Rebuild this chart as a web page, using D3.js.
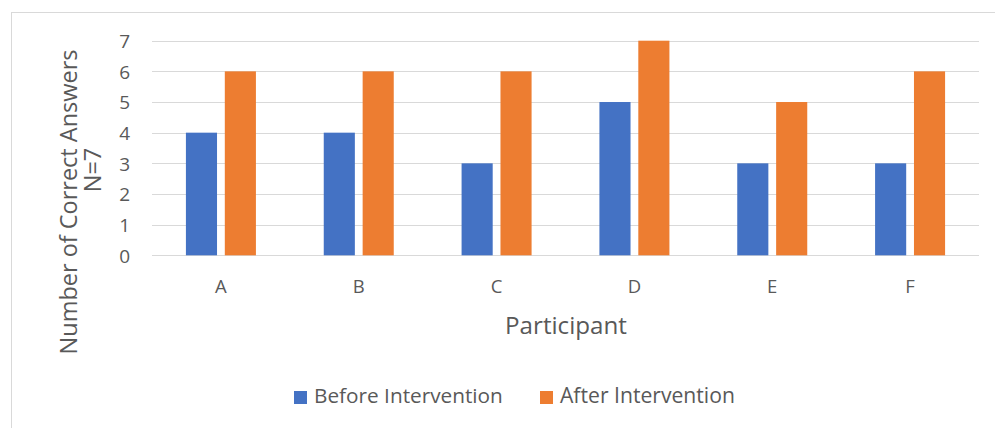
<!DOCTYPE html>
<html><head><meta charset="utf-8">
<script src="https://cdn.jsdelivr.net/npm/d3@7"></script>
<style>body{margin:0;background:#fff}svg{display:block}text{font-family:"Open Sans",sans-serif;fill:#595959}</style>
</head><body>
<svg id="c" width="995" height="428"></svg>
<script>
const categories = ["A","B","C","D","E","F"];
const seriesNames = ["Before Intervention","After Intervention"];
const before = [4,4,3,5,3,3];
const after = [6,6,6,7,5,6];
const yTicks = [0,1,2,3,4,5,6,7];
const colors = ["#4472C4","#ED7D31"];

const svg = d3.select("#c");
svg.append("rect").attr("x",11.5).attr("y",12.5).attr("width",1100).attr("height",600)
  .attr("fill","#fff").attr("stroke","#d9d9d9").attr("stroke-width",1);

const x = d3.scaleBand().domain(categories).range([152,979]).padding(0);
const y = d3.scaleLinear().domain([0,7]).range([255.3,40.7]);
const xs = d3.scaleBand().domain(seriesNames).range([-35,35]).paddingInner(0.2).paddingOuter(0);

// gridlines
svg.append("g").selectAll("line").data(yTicks).join("line")
  .attr("x1",152).attr("x2",979)
  .attr("y1",d=>Math.round(y(d))+0.5).attr("y2",d=>Math.round(y(d))+0.5)
  .attr("stroke","#d9d9d9").attr("stroke-width",1.2);

// y tick labels
const yAxis = d3.axisLeft(y).tickValues(yTicks).tickFormat(d3.format("d")).tickSize(0).tickPadding(0);
const ya = svg.append("g").attr("transform","translate(130,0)").call(yAxis);
ya.select(".domain").remove();
ya.selectAll("text").style("font-size","19px").attr("fill","#595959").attr("dy","0.36em")
  .style("font-family","'Open Sans',sans-serif");

// bars
const data = categories.map((c,i)=>({c, vals:[before[i],after[i]]}));
const g = svg.append("g");
data.forEach(d=>{
  d.vals.forEach((v,j)=>{
    g.append("rect")
      .attr("x", x(d.c)+x.bandwidth()/2 + xs(seriesNames[j]))
      .attr("width", xs.bandwidth())
      .attr("y", y(v)).attr("height", y(0)-y(v))
      .attr("fill", colors[j]);
  });
});

// x labels
const xAxis = d3.axisBottom(x).tickSize(0).tickPadding(0);
const xa = svg.append("g").attr("transform","translate(0,293)").call(xAxis);
xa.select(".domain").remove();
xa.selectAll("text").attr("dy",0).style("font-size","18.5px").attr("fill","#595959")
  .style("font-family","'Open Sans',sans-serif");

function fitText(sel, w){
  const n = sel.node(); const fs = parseFloat(sel.style("font-size"));
  const l = n.getComputedTextLength();
  sel.style("font-size",(fs*w/l)+"px");
}

// axis titles
const t1 = svg.append("text").attr("transform","translate(77,202) rotate(-90)")
  .attr("text-anchor","middle").style("font-size","21px").text("Number of Correct Answers");
fitText(t1,305);
const t2 = svg.append("text").attr("transform","translate(101,170) rotate(-90)")
  .attr("text-anchor","middle").style("font-size","21px").text("N=7");
t2.style("font-size",t1.style("font-size"));
const tx = svg.append("text").attr("x",566).attr("y",334).attr("text-anchor","middle")
  .style("font-size","21px").text("Participant");
fitText(tx,122);

// legend
const legX = [294,540];
const legW = [189,175];
seriesNames.forEach((s,j)=>{
  svg.append("rect").attr("x",legX[j]).attr("y",391).attr("width",13).attr("height",13).attr("fill",colors[j]);
  const t = svg.append("text").attr("x",legX[j]+20).attr("y",403).style("font-size","18px").text(s);
  fitText(t,legW[j]);
});
</script>
</body></html>
